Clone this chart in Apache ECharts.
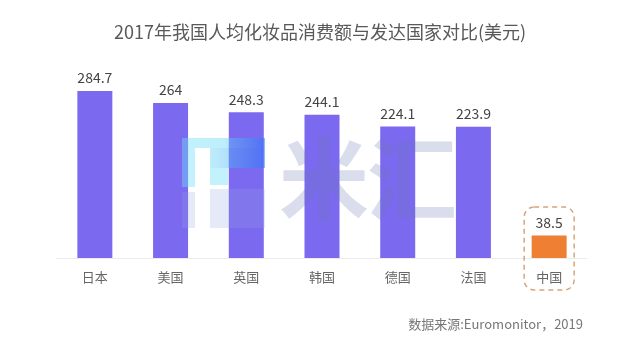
<!DOCTYPE html>
<html>
<head>
<meta charset="utf-8">
<script src="https://cdn.jsdelivr.net/npm/echarts@6/dist/echarts.min.js"></script>
<style>
  html, body { margin: 0; padding: 0; background: #fff; }
  #chart { width: 640px; height: 346px; }
</style>
</head>
<body>
<div id="chart"></div>
<script>
// Per-capita cosmetics spending, 2017 (USD)
const countries = ['日本', '美国', '英国', '韩国', '德国', '法国', '中国'];
const spending = [284.7, 264, 248.3, 244.1, 224.1, 223.9, 38.5];
const titleText = '2017年我国人均化妆品消费额与发达国家对比(美元)';
const sourceText = '数据来源:Euromonitor，2019';

const FONT = '"Noto Sans CJK SC", "Noto Sans", sans-serif';
const PURPLE = '#7b69ef';
const ORANGE = '#ee7f33';

const chart = echarts.init(document.getElementById('chart'));

const option = {
  animation: false,
  backgroundColor: '#ffffff',
  title: {
    text: titleText,
    left: 'center',
    top: 18,
    textStyle: { fontFamily: FONT, fontSize: 18, fontWeight: 'normal', color: '#595959' }
  },
  grid: { left: 57, right: 53, top: 82, bottom: 88 },
  xAxis: {
    type: 'category',
    data: countries,
    axisLine: { lineStyle: { color: '#ececec', width: 1 } },
    axisTick: { show: false },
    axisLabel: { fontFamily: FONT, fontSize: 13, color: '#666', margin: 13 }
  },
  yAxis: {
    type: 'value',
    min: 0,
    max: 300,
    show: false,
    splitLine: { show: false }
  },
  series: [{
    type: 'bar',
    barWidth: 35,
    data: spending.map((v, i) => ({
      value: v,
      itemStyle: { color: i === spending.length - 1 ? ORANGE : PURPLE }
    })),
    label: {
      show: true,
      position: 'top',
      distance: 6,
      fontFamily: FONT,
      fontSize: 14,
      color: '#444'
    }
  }]
};
chart.setOption(option);

// Decorations: translucent watermark over the plot, highlight box, source note
const last = countries.length - 1;
const [cx] = chart.convertToPixel({ seriesIndex: 0 }, [last, 0]);

const wmFill = 'rgba(110,122,180,0.26)';
const lavender = 'rgba(150,165,220,0.24)';
const cyan = 'rgba(110,225,245,0.42)';
const Z = 100;
const topGrad = () => new echarts.graphic.LinearGradient(0, 0, 1, 0, [
  { offset: 0, color: 'rgba(110,225,245,0.42)' },
  { offset: 0.5, color: 'rgba(100,215,245,0.42)' },
  { offset: 1, color: 'rgba(40,120,250,0.5)' }
]);
const rightGrad = () => new echarts.graphic.LinearGradient(0, 0, 1, 0, [
  { offset: 0, color: 'rgba(100,215,245,0.42)' },
  { offset: 1, color: 'rgba(40,120,250,0.5)' }
]);

chart.setOption({
  graphic: [
    // logo mark
    { type: 'rect', z: Z, shape: { x: 182, y: 138, width: 83, height: 10 }, style: { fill: topGrad() } },
    { type: 'rect', z: Z, shape: { x: 182, y: 148, width: 13, height: 39 }, style: { fill: cyan } },
    { type: 'rect', z: Z, shape: { x: 210, y: 148, width: 55, height: 20 }, style: { fill: rightGrad() } },
    { type: 'rect', z: Z, shape: { x: 210, y: 168, width: 18, height: 17 }, style: { fill: cyan } },
    { type: 'rect', z: Z, shape: { x: 182, y: 192, width: 13, height: 36 }, style: { fill: lavender } },
    { type: 'rect', z: Z, shape: { x: 210, y: 189, width: 55, height: 39 }, style: { fill: lavender } },
    // wordmark
    { type: 'text', z: Z, left: 279, top: 134,
      style: { text: '米', fontFamily: FONT, fontSize: 90, fontWeight: 'bold', fill: wmFill } },
    { type: 'text', z: Z, left: 367, top: 134,
      style: { text: '汇', fontFamily: FONT, fontSize: 90, fontWeight: 'bold', fill: wmFill } },
    // dashed highlight around the last category
    { type: 'rect', z: 50,
      shape: { x: cx - 25, y: 207, width: 50, height: 83, r: 10 },
      style: { fill: 'none', stroke: '#d9a47a', lineWidth: 1.5, lineDash: [5, 4] } },
    // data source
    { type: 'text', right: 57, top: 318,
      style: { text: sourceText, fontFamily: FONT, fontSize: 13, fill: '#777' } }
  ]
});
</script>
</body>
</html>
